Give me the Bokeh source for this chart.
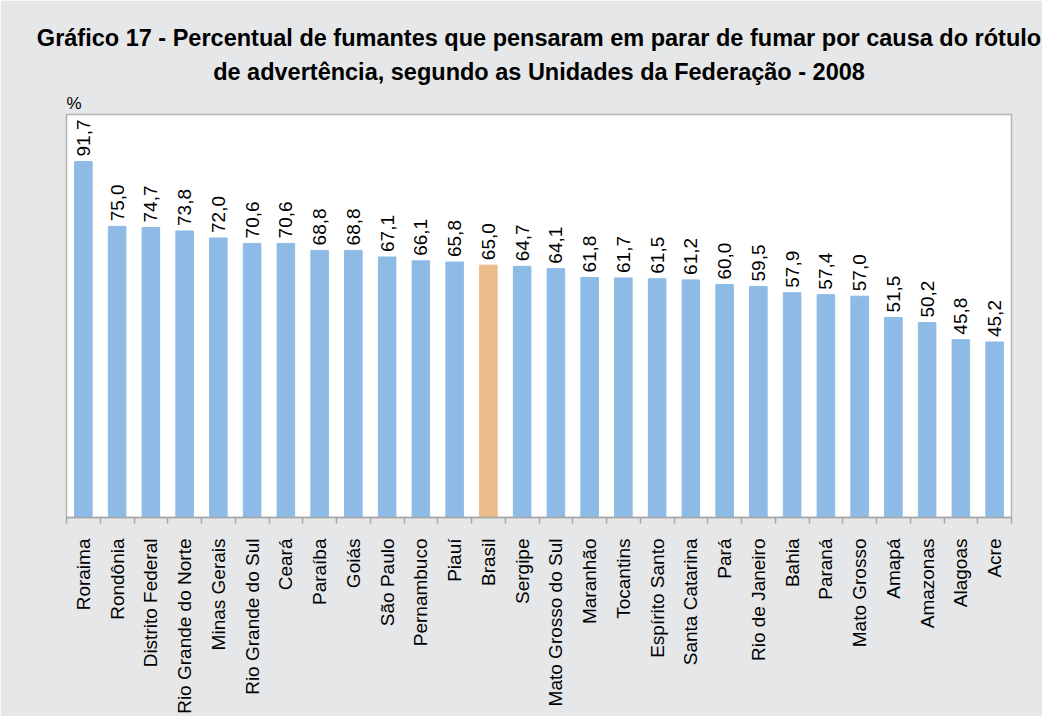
import math
from bokeh.plotting import figure
from bokeh.models import Range1d, FixedTicker, Title, ColumnDataSource
from bokeh.core.properties import value
from bokeh.embed import file_html
from bokeh.resources import INLINE

states = ["Roraima", "Rondônia", "Distrito Federal", "Rio Grande do Norte", "Minas Gerais",
          "Rio Grande do Sul", "Ceará", "Paraíba", "Goiás", "São Paulo", "Pernambuco", "Piauí",
          "Brasil", "Sergipe", "Mato Grosso do Sul", "Maranhão", "Tocantins", "Espírito Santo",
          "Santa Catarina", "Pará", "Rio de Janeiro", "Bahia", "Paraná", "Mato Grosso",
          "Amapá", "Amazonas", "Alagoas", "Acre"]
values = [91.7, 75.0, 74.7, 73.8, 72.0, 70.6, 70.6, 68.8, 68.8, 67.1, 66.1, 65.8,
          65.0, 64.7, 64.1, 61.8, 61.7, 61.5, 61.2, 60.0, 59.5, 57.9, 57.4, 57.0,
          51.5, 50.2, 45.8, 45.2]
title_lines = ["Gráfico 17 - Percentual de fumantes que pensaram em parar de fumar por causa do rótulo",
               "de advertência, segundo as Unidades da Federação - 2008"]
unit_label = "%"

BLUE = "#8dbbe6"
ORANGE = "#ebbd8c"
FONT = "Liberation Sans"

n = len(states)
xs = list(range(n))
colors = [ORANGE if s == "Brasil" else BLUE for s in states]
labels = [f"{v:.1f}".replace(".", ",") for v in values]

src = ColumnDataSource(dict(x=xs, top=values, color=colors, label=labels))

p = figure(width=1042, height=716, output_backend="svg", toolbar_location=None,
           x_range=Range1d(-0.5, n - 0.5), y_range=Range1d(0, 103.8),
           min_border_left=66, min_border_right=31, min_border_top=114, min_border_bottom=192)

p.background_fill_color = "white"
p.border_fill_color = "#e6e7e8"
p.outline_line_color = "#b3b3b3"
p.outline_line_width = 1.5
p.grid.visible = False
p.yaxis.visible = False

p.vbar(x="x", top="top", width=0.52, bottom=0, color="color", source=src)
p.text(x="x", y="top", text="label", source=src, angle=math.pi / 2,
       text_align="left", text_baseline="middle", y_offset=-5,
       text_font=value(FONT), text_font_size="19px", text_color="black")

ax = p.xaxis[0]
ax.ticker = FixedTicker(ticks=xs, minor_ticks=[i - 0.5 for i in range(n + 1)])
ax.major_label_overrides = {i: s for i, s in enumerate(states)}
ax.major_label_orientation = math.pi / 2
ax.major_label_text_font = FONT
ax.major_label_text_font_size = "19px"
ax.major_label_text_color = "black"
ax.major_label_standoff = 15
ax.major_tick_in = 0
ax.major_tick_out = 0
ax.minor_tick_in = 0
ax.minor_tick_out = 6
ax.minor_tick_line_color = "#a6a6a6"
ax.minor_tick_line_width = 1.5
ax.axis_line_color = "#a6a6a6"
ax.axis_line_width = 1.5

p.add_layout(Title(text=unit_label, align="left", text_font=FONT, text_font_style="normal",
                   text_font_size="17px", text_color="black", standoff=4), "above")
p.add_layout(Title(text=title_lines[1], align="center", text_font=FONT, text_font_style="bold",
                   text_font_size="23.5px", text_color="black", standoff=10, offset=-2), "above")
p.add_layout(Title(text=title_lines[0], align="center", text_font=FONT, text_font_style="bold",
                   text_font_size="23.5px", text_color="black", standoff=2, offset=-4), "above")

open("out.html", "w").write(file_html(p, INLINE))
